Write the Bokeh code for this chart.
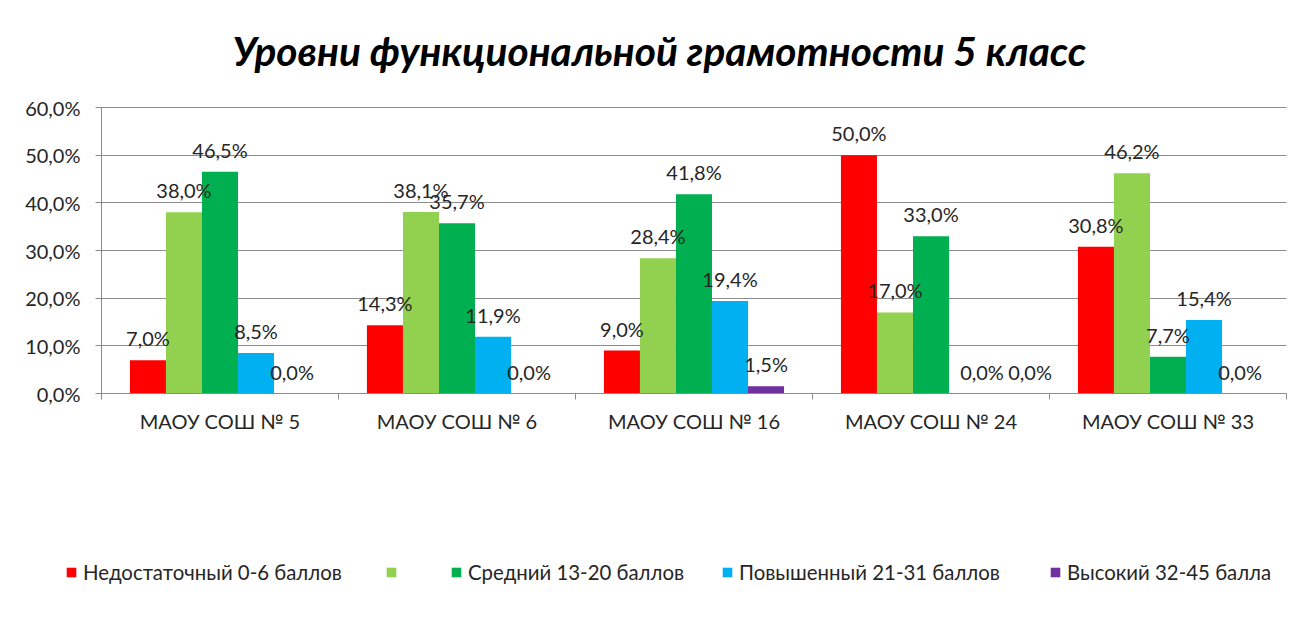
import numpy as np
from bokeh.plotting import figure
from bokeh.models import (ColumnDataSource, FixedTicker, LabelSet, Legend,
                          LegendItem, Range1d)
from bokeh.core.properties import value
from bokeh.transform import dodge
from bokeh.embed import file_html
from bokeh.resources import INLINE

# ---------------- data ----------------
title_text = "Уровни функциональной грамотности 5 класс"
categories = ["МАОУ СОШ № 5", "МАОУ СОШ № 6", "МАОУ СОШ № 16",
              "МАОУ СОШ № 24", "МАОУ СОШ № 33"]
series_names = ["Недостаточный 0-6 баллов", " ", "Средний 13-20 баллов",
                "Повышенный 21-31 баллов", "Высокий 32-45 балла"]
insufficient = [7.0, 14.3, 9.0, 50.0, 30.8]
unnamed = [38.0, 38.1, 28.4, 17.0, 46.2]
medium = [46.5, 35.7, 41.8, 33.0, 7.7]
elevated = [8.5, 11.9, 19.4, 0.0, 15.4]
high = [0.0, 0.0, 1.5, 0.0, 0.0]
y_ticks = [0, 10, 20, 30, 40, 50, 60]
y_tick_labels = ["0,0%", "10,0%", "20,0%", "30,0%", "40,0%", "50,0%", "60,0%"]

series_values = [insufficient, unnamed, medium, elevated, high]

# ---------------- style / layout ----------------
colors = ["#FF0000", "#92D050", "#00B050", "#00B0F0", "#7030A0"]
FONT = "Lato"
TXT = "#262626"
GRID = "#8c8c8c"
bar_w = 0.152
W, H, TOP = 1300, 620, 85           # canvas and title band (px)
Y60_PX = 107                        # pixel row of the 60% line
AXIS_X_PX, CAT_PX = 101, 237.0      # y-axis position, category width (px)
UNIT_PX = 286.0 / 60                # px per percent
# manual label nudges (px), like hand-moved labels in the original
label_dx = {(3, 3): 15, (3, 4): 27}
legend_x = [65, 385, 450, 721, 1049]
legend_y = [36, 42, 36, 36, 36]

ncat = len(categories)
centers = [i + 0.5 for i in range(ncat)]
y_top = 60 + (Y60_PX - TOP) / UNIT_PX
x_range = Range1d(-AXIS_X_PX / CAT_PX, (W - AXIS_X_PX) / CAT_PX)
y_range = Range1d(y_top - (H - TOP) / UNIT_PX, y_top)

p = figure(width=W, height=H, output_backend="svg", toolbar_location=None,
           x_range=x_range, y_range=y_range,
           min_border_left=0, min_border_right=0, min_border_top=TOP,
           min_border_bottom=0, background_fill_color="white",
           border_fill_color="white")
p.outline_line_color = None
p.xgrid.grid_line_color = None
p.ygrid.grid_line_color = GRID
p.ygrid.ticker = FixedTicker(ticks=y_ticks)
p.ygrid.cross_bounds = (0, ncat)

p.title.text = title_text
p.title.text_font = FONT
p.title.text_font_style = "bold italic"
p.title.text_font_size = "40.6px"
p.title.align = "left"
p.title.offset = 232
p.title.standoff = 21
p.title.text_color = "black"

# y axis
p.yaxis.fixed_location = 0
p.yaxis.bounds = (0, 60)
p.yaxis.ticker = FixedTicker(ticks=y_ticks)
p.yaxis.major_label_overrides = {t: l for t, l in zip(y_ticks, y_tick_labels)}
p.yaxis.major_label_text_font = FONT
p.yaxis.major_label_text_font_size = "20px"
p.yaxis.major_label_text_color = TXT
p.yaxis.major_label_standoff = 15
p.yaxis.major_tick_out = 6
p.yaxis.major_tick_in = 0
p.yaxis.minor_tick_line_color = None
p.yaxis.axis_line_color = GRID
p.yaxis.major_tick_line_color = GRID

# x axis
p.xaxis.fixed_location = 0
p.xaxis.bounds = (0, ncat)
p.xaxis.ticker = FixedTicker(ticks=centers, minor_ticks=list(range(ncat + 1)))
p.xaxis.major_label_overrides = {c: n for c, n in zip(centers, categories)}
p.xaxis.major_label_text_font = FONT
p.xaxis.major_label_text_font_size = "20px"
p.xaxis.major_label_text_color = TXT
p.xaxis.major_label_standoff = 9
p.xaxis.major_tick_out = 0
p.xaxis.major_tick_in = 0
p.xaxis.major_tick_line_color = None
p.xaxis.minor_tick_out = 6
p.xaxis.minor_tick_in = 0
p.xaxis.minor_tick_line_color = GRID
p.xaxis.axis_line_color = GRID

for s, (name, vals, col) in enumerate(zip(series_names, series_values, colors)):
    off = (s - 2) * bar_w
    src = ColumnDataSource(dict(
        x=centers, v=vals,
        lab=[("%.1f%%" % v).replace(".", ",") for v in vals],
        dx=[label_dx.get((i, s), 0) for i in range(len(vals))],
    ))
    r = p.vbar(x=dodge("x", off), top="v", width=bar_w, source=src,
               fill_color=col, line_color=None)
    p.add_layout(LabelSet(x=dodge("x", off), y="v", text="lab", source=src,
                          x_offset="dx", y_offset=22, text_align="center",
                          text_baseline="middle", text_font=value(FONT),
                          text_font_size=value("20px"), text_color=TXT))
    leg = Legend(items=[LegendItem(label=name, renderers=[r])],
                 location=(legend_x[s], legend_y[s]), orientation="horizontal",
                 glyph_width=12, glyph_height=12, label_standoff=6,
                 label_text_font=FONT, label_text_font_size="20.4px",
                 label_text_color=TXT, border_line_color=None,
                 background_fill_alpha=0, padding=0, margin=0, spacing=0)
    p.add_layout(leg, "center")

open("out.html", "w").write(file_html(p, INLINE))
